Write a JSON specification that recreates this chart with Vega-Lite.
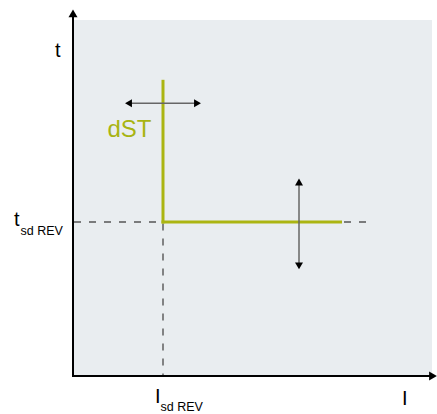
{
  "$schema": "https://vega.github.io/schema/vega-lite/v6.json",
  "width": 437,
  "height": 414,
  "autosize": {"type": "fit", "contains": "padding"},
  "padding": 0,
  "background": "white",
  "config": {"view": {"stroke": null}},
  "datasets": {
    "panel": [{"x": 0, "x2": 359, "y": 0, "y2": 357}],
    "segs": [
      {"kind": "axis", "x": 0, "y": -1, "x2": 0, "y2": 363},
      {"kind": "axis", "x": -1, "y": 0, "x2": 360, "y2": 0},
      {"kind": "dash", "x": 1, "y": 154.5, "x2": 299, "y2": 154.5},
      {"kind": "dash", "x": 90, "y": 153, "x2": 90, "y2": 0},
      {"kind": "arrow", "x": 56, "y": 273.5, "x2": 124, "y2": 273.5},
      {"kind": "arrow", "x": 226, "y": 194, "x2": 226, "y2": 111},
      {"kind": "curve", "x": 90, "y": 297, "x2": 90, "y2": 153},
      {"kind": "curve", "x": 88.5, "y": 154.5, "x2": 269, "y2": 154.5}
    ],
    "heads": [
      {"x": 0, "y": 363.5, "shape": "triangle-up", "size": 81},
      {"x": 360, "y": 0, "shape": "triangle-right", "size": 81},
      {"x": 55.5, "y": 273.5, "shape": "triangle-left", "size": 64},
      {"x": 124.5, "y": 273.5, "shape": "triangle-right", "size": 64},
      {"x": 226, "y": 194.5, "shape": "triangle-up", "size": 64},
      {"x": 226, "y": 110.5, "shape": "triangle-down", "size": 64}
    ],
    "labels": [
      {"text": "t", "x": -18, "y": 320, "size": 20, "color": "#000000"},
      {"text": "t", "x": -59, "y": 150, "size": 20, "color": "#000000"},
      {"text": "sd REV", "x": -52.5, "y": 141, "size": 12.5, "color": "#000000"},
      {"text": "I", "x": 82, "y": -27, "size": 20, "color": "#000000"},
      {"text": "sd REV", "x": 87.5, "y": -35, "size": 12.5, "color": "#000000"},
      {"text": "I", "x": 329, "y": -29, "size": 20, "color": "#000000"},
      {"text": "dST", "x": 34.5, "y": 240, "size": 24, "color": "#a8b412"}
    ]
  },
  "layer": [
    {
      "data": {"name": "panel"},
      "mark": {"type": "rect", "color": "#e9edf0"},
      "encoding": {
        "x": {"field": "x", "type": "quantitative", "scale": {"domain": [-73, 364], "nice": false, "zero": false}, "axis": null},
        "x2": {"field": "x2"},
        "y": {"field": "y", "type": "quantitative", "scale": {"domain": [-37, 377], "nice": false, "zero": false}, "axis": null},
        "y2": {"field": "y2"}
      }
    },
    {
      "data": {"name": "segs"},
      "transform": [{"filter": "datum.kind === 'dash'"}],
      "mark": {"type": "rule", "color": "#555555", "strokeWidth": 1.4, "strokeDash": [7, 8]},
      "encoding": {
        "x": {"field": "x", "type": "quantitative"},
        "x2": {"field": "x2"},
        "y": {"field": "y", "type": "quantitative"},
        "y2": {"field": "y2"}
      }
    },
    {
      "data": {"name": "segs"},
      "transform": [{"filter": "datum.kind === 'curve'"}],
      "mark": {"type": "rule", "color": "#abb512", "strokeWidth": 3},
      "encoding": {
        "x": {"field": "x", "type": "quantitative"},
        "x2": {"field": "x2"},
        "y": {"field": "y", "type": "quantitative"},
        "y2": {"field": "y2"}
      }
    },
    {
      "data": {"name": "segs"},
      "transform": [{"filter": "datum.kind === 'arrow'"}],
      "mark": {"type": "rule", "color": "#666666", "strokeWidth": 1.5},
      "encoding": {
        "x": {"field": "x", "type": "quantitative"},
        "x2": {"field": "x2"},
        "y": {"field": "y", "type": "quantitative"},
        "y2": {"field": "y2"}
      }
    },
    {
      "data": {"name": "segs"},
      "transform": [{"filter": "datum.kind === 'axis'"}],
      "mark": {"type": "rule", "color": "#000000", "strokeWidth": 2},
      "encoding": {
        "x": {"field": "x", "type": "quantitative"},
        "x2": {"field": "x2"},
        "y": {"field": "y", "type": "quantitative"},
        "y2": {"field": "y2"}
      }
    },
    {
      "data": {"name": "heads"},
      "mark": {"type": "point", "filled": true, "color": "#000000", "opacity": 1},
      "encoding": {
        "x": {"field": "x", "type": "quantitative"},
        "y": {"field": "y", "type": "quantitative"},
        "shape": {"field": "shape", "type": "nominal", "scale": null},
        "size": {"field": "size", "type": "quantitative", "scale": null}
      }
    },
    {
      "data": {"name": "labels"},
      "mark": {"type": "text", "align": "left", "baseline": "alphabetic", "font": "Liberation Sans"},
      "encoding": {
        "x": {"field": "x", "type": "quantitative"},
        "y": {"field": "y", "type": "quantitative"},
        "text": {"field": "text", "type": "nominal"},
        "size": {"field": "size", "type": "quantitative", "scale": null},
        "color": {"field": "color", "type": "nominal", "scale": null}
      }
    }
  ]
}
